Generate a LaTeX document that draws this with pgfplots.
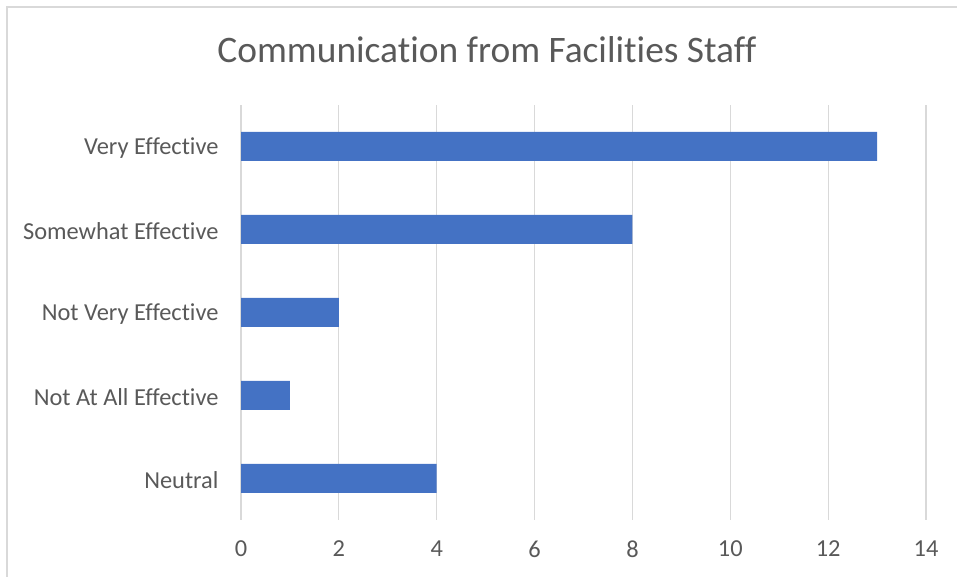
\documentclass[border=0pt]{standalone}
\usepackage{pgfplots}
\pgfplotsset{compat=1.18}
\usepackage{fontspec}
\setmainfont[Ligatures={NoCommon}]{Carlito}
\definecolor{barblue}{HTML}{4472C4}
\definecolor{txtgray}{HTML}{595959}
\definecolor{gridgray}{HTML}{D9D9D9}
\begin{document}
\begin{tikzpicture}
\useasboundingbox (0,0) rectangle (957pt,577pt);
% chart frame (only left and top edges are visible in the crop)
\draw[gridgray, line width=1.5pt] (7pt,0) -- (7pt,570pt) -- (957pt,570pt);
\node[txtgray, font=\fontsize{37.4}{40}\selectfont] at (487pt,527pt) {Communication from Facilities Staff};
\begin{axis}[
  at={(241pt,57pt)}, anchor=south west,
  width=685pt, height=415pt, scale only axis,
  xbar, bar width=29pt,
  xmin=0, xmax=14, xtick distance=2,
  ymin=-0.5, ymax=4.5, ytick={0,...,4},
  yticklabels={Neutral, Not At All Effective, Not Very Effective, Somewhat Effective, Very Effective},
  axis line style={draw=none}, major tick length=0pt,
  xmajorgrids, grid style={gridgray, line width=1.2pt},
  ticklabel style={txtgray, font=\fontsize{24.4}{27}\selectfont},
  xticklabel style={yshift=-17pt},
  yticklabel style={xshift=-19pt, yshift=-1.5pt},
  /pgf/number format/assume math mode=true,
]
\addplot[fill=barblue, draw=none] coordinates {(4,0) (1,1) (2,2) (8,3) (13,4)};
\end{axis}
\end{tikzpicture}
\end{document}
